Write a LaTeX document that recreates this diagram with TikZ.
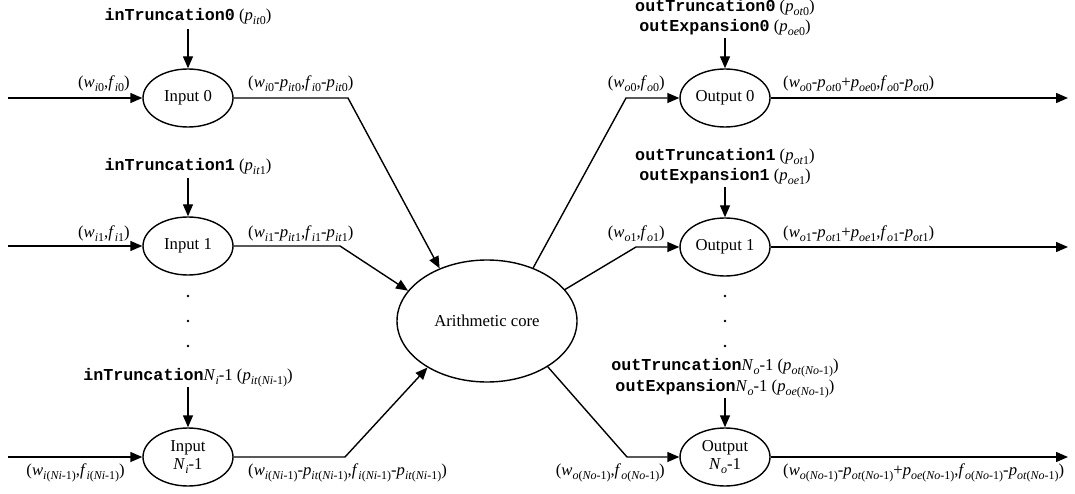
\documentclass[tikz,border=0pt]{standalone}
\usepackage{fontspec}
\setmainfont{Liberation Serif}
\setmonofont{Liberation Mono}
\usetikzlibrary{shapes.geometric,arrows.meta}

% italic letters, subscripts and bold code names
\newcommand\vi[1]{\textit{#1}}
\newcommand\sbs[1]{\raisebox{-4pt}{\fontsize{12}{12}\selectfont #1}}
\newcommand\cmd[1]{{\ttfamily\bfseries #1}}

\tikzset{
  every node/.style={font=\fontsize{16.7}{20}\selectfont},
  port/.style={ellipse, draw, line width=1.4pt, inner sep=0pt,
               minimum width=90pt, minimum height=58pt, align=center},
  corebox/.style={ellipse, draw, line width=1.4pt, inner sep=0pt,
               minimum width=180pt, minimum height=122pt},
  lbl/.style={inner sep=0pt},
  arr/.style={line width=1.4pt, -{Triangle[length=12pt,width=10pt]}},
  dot/.style={circle, fill, inner sep=0pt, minimum size=2.6pt}
}

\begin{document}
\begin{tikzpicture}[x=1pt, y=-1pt]
\useasboundingbox (0,0) rectangle (1075,494);

% ---------- nodes ----------
\node[port] (in0) at (188,98) {Input 0};
\node[port] (in1) at (188,246) {Input 1};
\node[port] (inN) at (188,457) {Input\\[-2pt]\vi{N}\sbs{\vi{i}}-1};

\node[corebox] (core) at (487,321) {Arithmetic core};

\node[port] (out0) at (725,98) {Output 0};
\node[port] (out1) at (725,247) {Output 1};
\node[port] (outN) at (725,457) {Output\\[-2pt]\vi{N}\sbs{\vi{o}}-1};

% ellipsis dots between ports
\foreach \yy [count=\k] in {296,321,346} {
  \node[dot] (din\k) at (188,\yy) {};
  \node[dot] (dout\k) at (725,\yy) {};
}

% ---------- control labels ----------
\node[lbl, anchor=base] (tin0) at (188,21) {\cmd{inTruncation0} (\vi{p}\sbs{\vi{it}0})};
\node[lbl, anchor=base] (tin1) at (188,171) {\cmd{inTruncation1} (\vi{p}\sbs{\vi{it}1})};
\node[lbl, anchor=base] (tinN) at (188,380) {\cmd{inTruncation}\vi{N}\sbs{\vi{i}}-1 (\vi{p}\sbs{\vi{it}(\vi{Ni}-1)})};

\node[lbl, anchor=base] (tout0) at (725,12) {\cmd{outTruncation0} (\vi{p}\sbs{\vi{ot}0})};
\node[lbl, anchor=base] (eout0) at (725,32) {\cmd{outExpansion0} (\vi{p}\sbs{\vi{oe}0})};
\node[lbl, anchor=base] (tout1) at (725,161) {\cmd{outTruncation1} (\vi{p}\sbs{\vi{ot}1})};
\node[lbl, anchor=base] (eout1) at (725,181) {\cmd{outExpansion1} (\vi{p}\sbs{\vi{oe}1})};
\node[lbl, anchor=base] (toutN) at (725,370) {\cmd{outTruncation}\vi{N}\sbs{\vi{o}}-1 (\vi{p}\sbs{\vi{ot}(\vi{No}-1)})};
\node[lbl, anchor=base] (eoutN) at (725,391) {\cmd{outExpansion}\vi{N}\sbs{\vi{o}}-1 (\vi{p}\sbs{\vi{oe}(\vi{No}-1)})};

% ---------- signal labels ----------
\node[lbl, anchor=base east] (a0) at (130,88) {(\vi{w}\sbs{\vi{i}0},\vi{f}\sbs{\vi{i}0})};
\node[lbl, anchor=base west] (b0) at (248,88) {(\vi{w}\sbs{\vi{i}0}-\vi{p}\sbs{\vi{it}0},\vi{f}\sbs{\vi{i}0}-\vi{p}\sbs{\vi{it}0})};
\node[lbl, anchor=base east] (a1) at (130,237) {(\vi{w}\sbs{\vi{i}1},\vi{f}\sbs{\vi{i}1})};
\node[lbl, anchor=base west] (b1) at (248,237) {(\vi{w}\sbs{\vi{i}1}-\vi{p}\sbs{\vi{it}1},\vi{f}\sbs{\vi{i}1}-\vi{p}\sbs{\vi{it}1})};
\node[lbl, anchor=base east] (aN) at (125,475) {(\vi{w}\sbs{\vi{i}(\vi{Ni}-1)},\vi{f}\sbs{\vi{i}(\vi{Ni}-1)})};
\node[lbl, anchor=base west] (bN) at (248,475) {(\vi{w}\sbs{\vi{i}(\vi{Ni}-1)}-\vi{p}\sbs{\vi{it}(\vi{Ni}-1)},\vi{f}\sbs{\vi{i}(\vi{Ni}-1)}-\vi{p}\sbs{\vi{it}(\vi{Ni}-1)})};

\node[lbl, anchor=base east] (c0) at (665,88) {(\vi{w}\sbs{\vi{o}0},\vi{f}\sbs{\vi{o}0})};
\node[lbl, anchor=base west] (e0) at (783,88) {(\vi{w}\sbs{\vi{o}0}-\vi{p}\sbs{\vi{ot}0}+\vi{p}\sbs{\vi{oe}0},\vi{f}\sbs{\vi{o}0}-\vi{p}\sbs{\vi{ot}0})};
\node[lbl, anchor=base east] (c1) at (665,237) {(\vi{w}\sbs{\vi{o}1},\vi{f}\sbs{\vi{o}1})};
\node[lbl, anchor=base west] (e1) at (783,237) {(\vi{w}\sbs{\vi{o}1}-\vi{p}\sbs{\vi{ot}1}+\vi{p}\sbs{\vi{oe}1},\vi{f}\sbs{\vi{o}1}-\vi{p}\sbs{\vi{ot}1})};
\node[lbl, anchor=base east] (cN) at (665,475) {(\vi{w}\sbs{\vi{o}(\vi{No}-1)},\vi{f}\sbs{\vi{o}(\vi{No}-1)})};
\node[lbl, anchor=base west] (eN) at (783,475) {(\vi{w}\sbs{\vi{o}(\vi{No}-1)}-\vi{p}\sbs{\vi{ot}(\vi{No}-1)}+\vi{p}\sbs{\vi{oe}(\vi{No}-1)},\vi{f}\sbs{\vi{o}(\vi{No}-1)}-\vi{p}\sbs{\vi{ot}(\vi{No}-1)})};

% ---------- connector end points ----------
\coordinate (li0) at (8,98);
\coordinate (li1) at (8,246);
\coordinate (liN) at (8,457);
\coordinate (ki0) at (348,98);
\coordinate (ki1) at (340,246);
\coordinate (kiN) at (345,457);
\coordinate (ko0) at (626,98);
\coordinate (ko1) at (636,247);
\coordinate (koN) at (627,457);
\coordinate (ro0) at (1068,98);
\coordinate (ro1) at (1068,247);
\coordinate (roN) at (1068,457);
\coordinate (ti0) at (188,29);
\coordinate (ti1) at (188,178);
\coordinate (tiN) at (188,387);
\coordinate (to0) at (725,38);
\coordinate (to1) at (725,187);
\coordinate (toN) at (725,398);

% ---------- connectors ----------
\draw[arr] (ti0) -- (in0);
\draw[arr] (ti1) -- (in1);
\draw[arr] (tiN) -- (inN);
\draw[arr] (to0) -- (out0);
\draw[arr] (to1) -- (out1);
\draw[arr] (toN) -- (outN);

\draw[arr] (li0) -- (in0);
\draw[arr] (li1) -- (in1);
\draw[arr] (liN) -- (inN);

\draw[arr] (in0) -- (ki0) -- (core.132.7);
\draw[arr] (in1) -- (ki1) -- (core.159.8);
\draw[arr] (inN) -- (kiN) -- (core.218.1);

\draw[arr] (core.49.1) -- (ko0) -- (out0);
\draw[arr] (core.22.2) -- (ko1) -- (out1);
\draw[arr] (core.-37.6) -- (koN) -- (outN);

\draw[arr] (out0) -- (ro0);
\draw[arr] (out1) -- (ro1);
\draw[arr] (outN) -- (roN);
\end{tikzpicture}
\end{document}
